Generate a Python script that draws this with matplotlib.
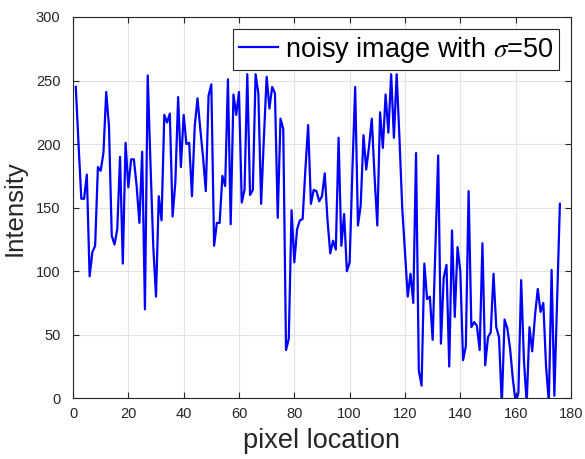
import matplotlib

matplotlib.use("Agg")
import matplotlib.pyplot as plt
import numpy as np

# intensity profile along one row of the noisy image (pixels 1..175)
intensity = [
    245, 200, 157, 157, 176, 96, 115, 120, 182, 179,
    193, 241, 214, 128, 121, 133, 190, 106, 201, 166,
    188, 188, 167, 138, 194, 70, 254, 185, 120, 80,
    159, 140, 223, 217, 224, 143, 170, 237, 182, 223,
    200, 201, 159, 214, 236, 212, 190, 163, 238, 247,
    120, 138, 138, 175, 167, 251, 137, 239, 223, 241,
    154, 164, 255, 160, 164, 255, 240, 153, 205, 253,
    228, 245, 240, 142, 220, 212, 38, 47, 148, 107,
    133, 140, 141, 180, 215, 153, 164, 163, 155, 159,
    177, 140, 114, 124, 117, 205, 120, 145, 100, 107,
    180, 245, 136, 152, 207, 180, 198, 220, 175, 136,
    225, 197, 239, 209, 255, 205, 255, 205, 150, 115,
    80, 98, 75, 193, 22, 10, 106, 78, 80, 46,
    118, 191, 43, 95, 105, 25, 132, 64, 119, 100,
    30, 41, 163, 56, 60, 57, 38, 122, 26, 48,
    52, 98, 56, 48, -5, 62, 55, 39, 15, -3,
    4, 93, 30, -4, 56, 37, 65, 86, 68, 75,
    25, -3, 101, 2, 77, 153,
]
pixel = np.arange(1, len(intensity) + 1)

x_ticks = list(range(0, 181, 20))
y_ticks = list(range(0, 301, 50))

plt.rcParams["font.family"] = ["Liberation Sans", "DejaVu Sans"]
plt.rcParams["mathtext.fontset"] = "stix"

fig = plt.figure(figsize=(5.85, 4.59), dpi=100)
ax = fig.add_axes([0.1248, 0.1322, 0.8512, 0.8308])

ax.plot(pixel, intensity, color="#0000ff", linewidth=1.6,
        label=r"noisy image with $\sigma$=50")

ax.set_xlim(0, 180)
ax.set_ylim(0, 300)
ax.set_xticks(x_ticks)
ax.set_yticks(y_ticks)
ax.grid(True, color="#e3e3e3", linewidth=0.8)
ax.set_axisbelow(True)

for side in ax.spines.values():
    side.set_color("#262626")
    side.set_linewidth(0.8)
ax.tick_params(direction="in", top=True, right=True, length=4,
               width=0.8, color="#262626", labelsize=10.5,
               labelcolor="#262626")
ax.tick_params(axis="y", pad=9)
ax.tick_params(axis="x", pad=6)

ax.set_xlabel("pixel location", fontsize=19.5, color="#262626", labelpad=5)
ax.set_ylabel("Intensity", fontsize=18.5, color="#262626", labelpad=7)

leg = ax.legend(loc="upper right", fontsize=19.5, frameon=True, fancybox=False,
                handlelength=1.45, handletextpad=0.25, borderpad=0.2,
                borderaxespad=0.45)
leg.get_frame().set_edgecolor("#262626")
leg.get_frame().set_linewidth(0.8)
leg.get_frame().set_alpha(1)

fig.savefig("out.png", dpi=100)
